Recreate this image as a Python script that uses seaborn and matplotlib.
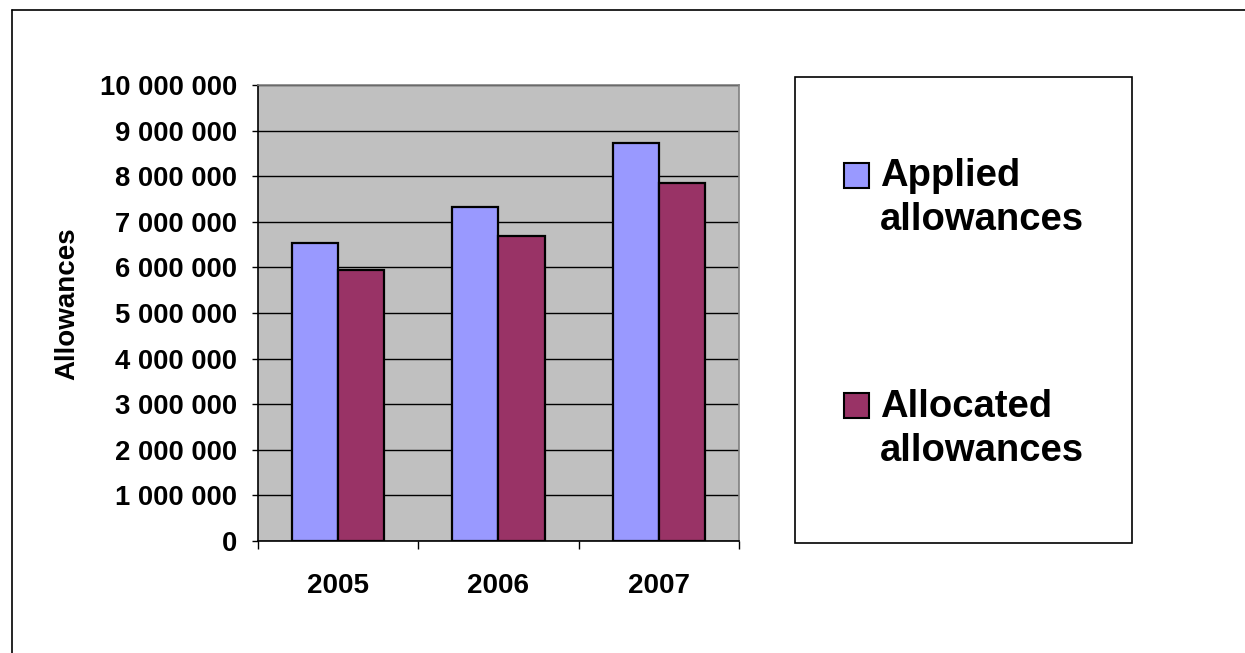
import matplotlib
matplotlib.use("Agg")
import matplotlib.pyplot as plt
import matplotlib.ticker as mticker
from matplotlib.patches import Rectangle
from matplotlib.lines import Line2D
import seaborn as sns
import pandas as pd

# data
years = ["2005", "2006", "2007"]
applied = [6540000, 7330000, 8730000]
allocated = [5940000, 6680000, 7850000]
series_names = ["Applied allowances", "Allocated allowances"]
series_colors = ["#9999FF", "#993366"]

df = pd.DataFrame({
    "year": years * 2,
    "value": applied + allocated,
    "series": [series_names[0]] * 3 + [series_names[1]] * 3,
})

sns.set_style("white")
plt.rcParams["font.family"] = ["Liberation Sans", "DejaVu Sans"]
plt.rcParams["font.weight"] = "bold"
plt.rcParams["text.color"] = "black"
plt.rcParams["axes.labelcolor"] = "black"
plt.rcParams["xtick.color"] = "black"
plt.rcParams["ytick.color"] = "black"

fig = plt.figure(figsize=(12.45, 6.53), dpi=100)
ax = fig.add_axes([258 / 1245, 112 / 653, 481 / 1245, 456 / 653])
ax.set_facecolor("#C0C0C0")

sns.barplot(data=df, x="year", y="value", hue="series", palette=series_colors,
            saturation=1, width=0.575, edgecolor="black", linewidth=1.6,
            ax=ax, zorder=3)
ax.get_legend().remove()

ax.set_ylim(0, 10000000)
ax.set_xlim(-0.5, 2.5)
ax.yaxis.set_major_locator(mticker.MultipleLocator(1000000))
ax.yaxis.set_major_formatter(mticker.FuncFormatter(lambda v, p: f"{int(v):,}".replace(",", " ")))
ax.grid(axis="y", color="black", linewidth=1.0, zorder=1)
ax.set_axisbelow(True)

for s in ["top", "right"]:
    ax.spines[s].set_color("#808080")
    ax.spines[s].set_linewidth(1.2)
for s in ["left", "bottom"]:
    ax.spines[s].set_color("black")
    ax.spines[s].set_linewidth(1.2)

ax.tick_params(axis="y", which="major", direction="out", length=4, width=1,
               color="black", pad=11, labelsize=19.8, left=True)
ax.tick_params(axis="x", which="major", length=0, pad=23, labelsize=20)
ax.set_xticks([-0.5, 0.5, 1.5, 2.5], minor=True)
ax.tick_params(axis="x", which="minor", direction="out", length=6, width=1,
               color="black", bottom=True)
for lab in ax.get_xticklabels() + ax.get_yticklabels():
    lab.set_fontweight("bold")
    lab.set_color("black")

ax.set_xlabel("")
ax.set_ylabel("Allowances", fontsize=20, fontweight="bold", color="black")
ax.yaxis.set_label_coords(-0.37, 0.52)

# legend box drawn by hand to match the original layout
W, H = 1245, 653
fig.patches.append(Rectangle((795 / W, 1 - 543 / H), 337 / W, 466 / H,
                             transform=fig.transFigure, facecolor="white",
                             edgecolor="black", linewidth=1.2))
legend_rows = [(163, 186, 230), (393, 417, 461)]
for (top, b1, b2), name, col in zip(legend_rows, series_names, series_colors):
    fig.patches.append(Rectangle((844 / W, 1 - (top + 25) / H), 25 / W, 25 / H,
                                 transform=fig.transFigure, facecolor=col,
                                 edgecolor="black", linewidth=1.5))
    first, second = name.split(" ")
    fig.text(880 / W, 1 - b1 / H, first, fontsize=27.5, fontweight="bold",
             va="baseline", color="black")
    fig.text(880 / W, 1 - b2 / H, second, fontsize=27.5, fontweight="bold",
             va="baseline", color="black")

# outer chart frame (only top and left edges visible)
fig.lines.append(Line2D([12 / W, 12 / W], [0, 1 - 10 / H], transform=fig.transFigure,
                        color="black", linewidth=1.2))
fig.lines.append(Line2D([12 / W, 1], [1 - 10 / H, 1 - 10 / H], transform=fig.transFigure,
                        color="black", linewidth=1.2))

fig.savefig("out.png", dpi=100)
